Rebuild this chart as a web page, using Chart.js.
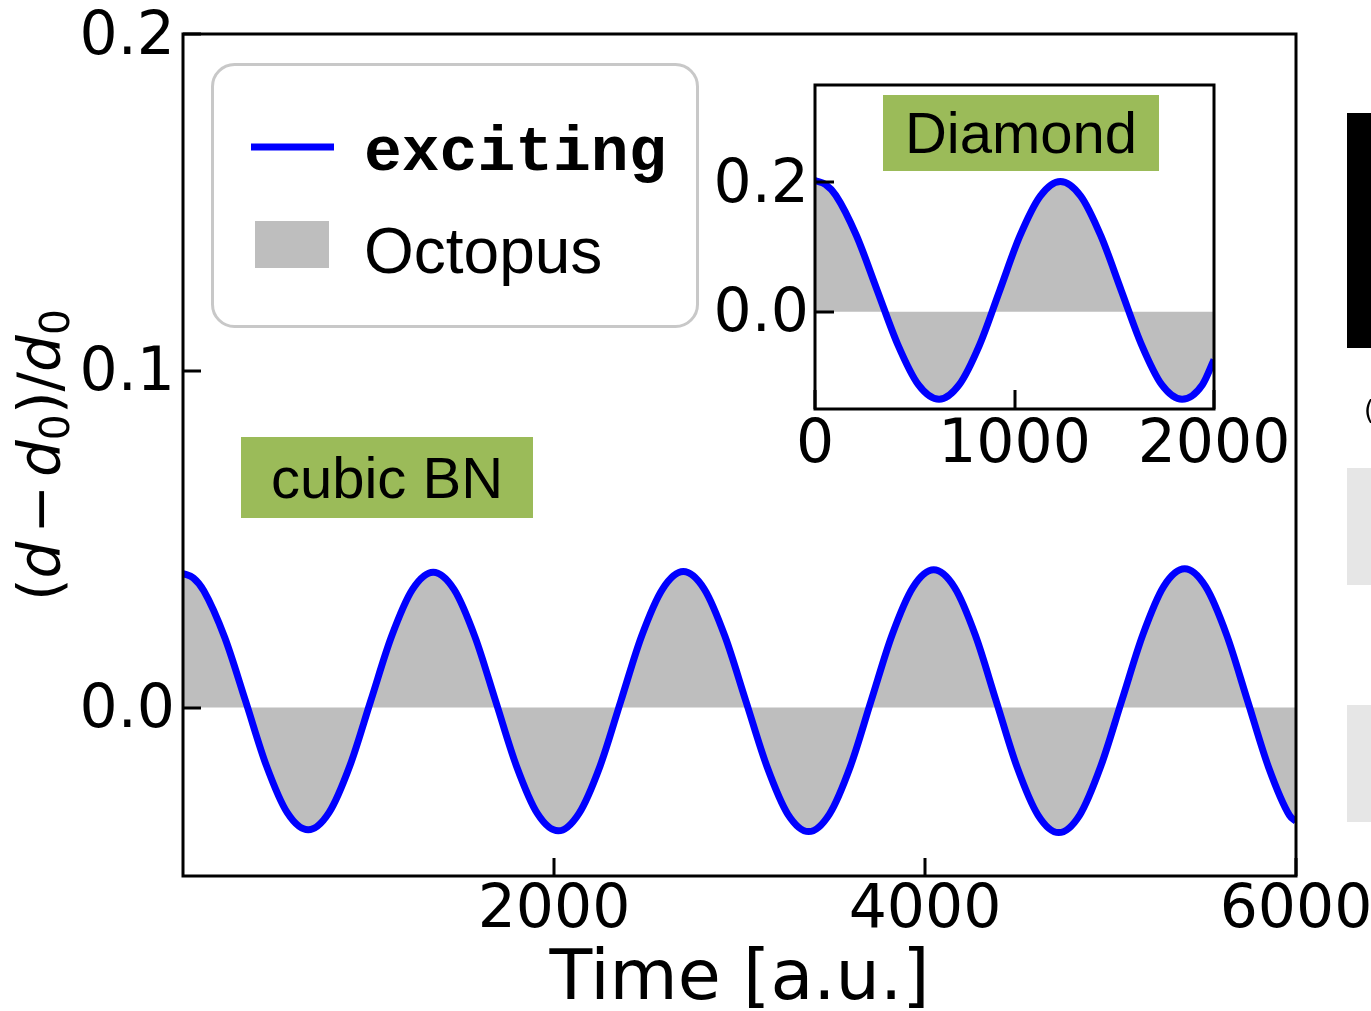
<!DOCTYPE html>
<html>
<head>
<meta charset="utf-8">
<script src="https://cdn.jsdelivr.net/npm/chart.js@4.4.1/dist/chart.umd.min.js"></script>
<style>
  html, body { margin: 0; padding: 0; background: #ffffff; }
  #wrap { position: relative; width: 1371px; height: 1011px; overflow: hidden; }
  #main { position: absolute; left: 0; top: 0; }
  #inset { position: absolute; left: 700px; top: 70px; }
</style>
</head>
<body>
<div id="wrap">
  <canvas id="main" width="1371" height="1011"></canvas>
  <canvas id="inset" width="600" height="410"></canvas>
</div>
<script>
// Cubic BN: relative change of the bond length over time
const bnTime = [0, 56, 112, 225, 338, 450, 562, 675,
  787, 900, 1012, 1124, 1237, 1349,
  1461, 1574, 1686, 1798, 1911, 2023,
  2135, 2248, 2360, 2472, 2585, 2697,
  2810, 2922, 3035, 3148, 3260, 3373,
  3485, 3598, 3710, 3822, 3935, 4047,
  4159, 4272, 4384, 4496, 4609, 4721,
  4834, 4947, 5061, 5174, 5287, 5400,
  5513, 5626, 5739, 5852, 5965, 6000];
const bnStrain = [0.0398, 0.0385, 0.0347, 0.0208, 0.0018, -0.0173, -0.0312, -0.0363,
  -0.0312, -0.0172, 0.0020, 0.0211, 0.0351, 0.0402,
  0.0351, 0.0210, 0.0018, -0.0174, -0.0315, -0.0366,
  -0.0314, -0.0174, 0.0019, 0.0212, 0.0352, 0.0404,
  0.0352, 0.0211, 0.0018, -0.0175, -0.0316, -0.0368,
  -0.0316, -0.0174, 0.0021, 0.0215, 0.0357, 0.0409,
  0.0357, 0.0214, 0.0019, -0.0176, -0.0319, -0.0371,
  -0.0319, -0.0175, 0.0021, 0.0216, 0.0360, 0.0412,
  0.0359, 0.0216, 0.0020, -0.0177, -0.0320, -0.0338];

// Diamond (inset)
const diaTime = [0, 52, 104, 207, 311, 415, 518, 622,
  723, 825, 926, 1027, 1129, 1230,
  1332, 1433, 1535, 1637, 1738, 1840,
  1942, 2000];
const diaStrain = [0.2025, 0.1967, 0.1799, 0.1181, 0.0338, -0.0506, -0.1124, -0.1350,
  -0.1125, -0.0510, 0.0330, 0.1170, 0.1785, 0.2010,
  0.1785, 0.1170, 0.0330, -0.0510, -0.1125, -0.1350,
  -0.1125, -0.0740];

const mainTimeTicks = [2000, 4000, 6000];
const mainStrainTicks = [0, 0.1, 0.2];
const insetTimeTicks = [0, 1000, 2000];
const insetStrainTicks = [0, 0.2];

const seriesNames = ['exciting', 'Octopus'];
const mainLabel = 'cubic BN';
const insetLabel = 'Diamond';
const xTitle = 'Time [a.u.]';

const LINE_BLUE = '#0000ff';
const FILL_GREY = '#bebebe';
const TAG_GREEN = '#9bbb59';
const SANS = '"DejaVu Sans"';

const toPoints = (xs, ys) => xs.map((x, i) => ({ x: x, y: ys[i] }));

function fixedTicks(values) {
  return (scale) => { scale.ticks = values.map(v => ({ value: v })); };
}
function fixedSize(prop, size) {
  return (scale) => {
    scale[prop] = size;
    scale.paddingLeft = scale.paddingRight = scale.paddingTop = scale.paddingBottom = 0;
  };
}

// Frame around the plot area plus inward-pointing tick marks
const frameTicks = {
  id: 'frameTicks',
  afterDatasetsDraw(chart, args, opts) {
    const { ctx, chartArea: a, scales } = chart;
    const len = opts.len || 18;
    ctx.save();
    ctx.strokeStyle = '#000';
    ctx.lineWidth = 3;
    ctx.beginPath();
    scales.x.ticks.forEach(t => {
      const px = Math.round(scales.x.getPixelForValue(t.value));
      ctx.moveTo(px, a.bottom);
      ctx.lineTo(px, a.bottom - len);
    });
    scales.y.ticks.forEach(t => {
      const py = Math.round(scales.y.getPixelForValue(t.value));
      ctx.moveTo(a.left, py);
      ctx.lineTo(a.left + len, py);
    });
    ctx.stroke();
    ctx.strokeRect(a.left, a.top, a.right - a.left, a.bottom - a.top);
    ctx.restore();
  }
};

// White plot background
const plotBg = {
  id: 'plotBg',
  beforeDatasetsDraw(chart) {
    const { ctx, chartArea: a } = chart;
    ctx.save();
    ctx.fillStyle = '#ffffff';
    ctx.fillRect(a.left, a.top, a.right - a.left, a.bottom - a.top);
    ctx.restore();
  }
};

function tag(ctx, text, x, y, w, h, baseline, size) {
  ctx.save();
  ctx.fillStyle = TAG_GREEN;
  ctx.fillRect(x, y, w, h);
  ctx.fillStyle = '#000';
  ctx.font = `${size}px "Liberation Sans"`;
  ctx.textAlign = 'center';
  ctx.textBaseline = 'alphabetic';
  ctx.fillText(text, x + w / 2, baseline);
  ctx.restore();
}

// Legend box, material tag, y-axis title and neighbouring panel edge
const mainDecor = {
  id: 'mainDecor',
  afterDraw(chart) {
    const { ctx, chartArea: a } = chart;
    const ds = chart.data.datasets;
    ctx.save();

    // legend
    ctx.beginPath();
    ctx.roundRect(212.5, 64.5, 485, 262, 22);
    ctx.fillStyle = 'rgba(255,255,255,0.9)';
    ctx.fill();
    ctx.strokeStyle = '#c8c8c8';
    ctx.lineWidth = 3;
    ctx.stroke();

    ctx.strokeStyle = ds[0].borderColor;
    ctx.lineWidth = 7;
    ctx.beginPath();
    ctx.moveTo(251, 147);
    ctx.lineTo(334, 147);
    ctx.stroke();
    ctx.fillStyle = ds[1].backgroundColor;
    ctx.fillRect(255, 221, 74, 47);

    ctx.fillStyle = '#000';
    ctx.textBaseline = 'alphabetic';
    ctx.textAlign = 'left';
    ctx.font = 'bold 63px "Liberation Mono"';
    ctx.fillText(ds[0].label, 364, 170);
    ctx.font = '64px "Liberation Sans"';
    ctx.fillText(ds[1].label, 364, 273);

    // material tag
    tag(ctx, mainLabel, 241, 437, 292, 81, 498, 58);

    // y-axis title: (d - d0)/d0 with italic d and subscript 0
    const size = 58;
    const gap = 8;
    const parts = [['(', 'n'], ['d', 'i'], [' ', 'g'], ['\u2212', 'n'], [' ', 'g'], ['d', 'i'], ['0', 's'],
                   [')', 'n'], ['/', 'n'], ['d', 'i'], ['0', 's']];
    const fontFor = k => k === 'i' ? `italic ${size}px ${SANS}`
                       : k === 's' ? `${Math.round(size * 0.7)}px ${SANS}`
                       : `${size}px ${SANS}`;
    const widthOf = (s, k) => {
      if (k === 'g') return gap;
      ctx.font = fontFor(k);
      return ctx.measureText(s).width;
    };
    let total = 0;
    parts.forEach(([s, k]) => { total += widthOf(s, k); });
    ctx.translate(60, (a.top + a.bottom) / 2);
    ctx.rotate(-Math.PI / 2);
    let x = -total / 2;
    parts.forEach(([s, k]) => {
      const w = widthOf(s, k);
      if (k !== 'g') ctx.fillText(s, x, k === 's' ? size * 0.15 : 0);
      x += w;
    });
    ctx.setTransform(1, 0, 0, 1, 0, 0);

    // edge of the neighbouring panel
    ctx.fillStyle = '#000';
    ctx.fillRect(1347, 113, 24, 235);
    ctx.fillStyle = '#e6e6e6';
    ctx.fillRect(1347, 468, 24, 117);
    ctx.fillRect(1347, 705, 24, 117);
    ctx.fillStyle = '#000';
    ctx.font = `26px ${SANS}`;
    ctx.fillText('(', 1364, 419);
    ctx.restore();
  }
};

const insetDecor = {
  id: 'insetDecor',
  afterDraw(chart) {
    tag(chart.ctx, insetLabel, 183, 25, 276, 76, 83, 58);
  }
};

const tickFont = { family: 'DejaVu Sans', size: 60, lineHeight: 1 };
const plainNumber = v => String(v);
const oneDecimal = v => v.toFixed(1);

function series(times, values) {
  return [
    {
      label: seriesNames[0],
      data: toPoints(times, values),
      borderColor: LINE_BLUE,
      borderWidth: 7,
      pointRadius: 0,
      fill: false,
      cubicInterpolationMode: 'monotone'
    },
    {
      label: seriesNames[1],
      data: toPoints(times, values),
      borderWidth: 0,
      borderColor: 'rgba(0,0,0,0)',
      backgroundColor: FILL_GREY,
      pointRadius: 0,
      fill: 'origin',
      cubicInterpolationMode: 'monotone'
    }
  ];
}

new Chart(document.getElementById('main'), {
  type: 'line',
  data: { datasets: series(bnTime, bnStrain) },
  options: {
    responsive: false,
    animation: false,
    events: [],
    layout: { padding: { top: 34, right: 75, bottom: 0, left: 0 } },
    plugins: { legend: { display: false }, tooltip: { enabled: false }, frameTicks: { len: 18 } },
    scales: {
      x: {
        type: 'linear', min: 0, max: 6000, position: 'bottom',
        grid: { display: false }, border: { display: false },
        afterBuildTicks: fixedTicks(mainTimeTicks),
        afterFit: fixedSize('height', 135),
        ticks: { font: tickFont, color: '#000', padding: -3, maxRotation: 0, autoSkip: false, callback: plainNumber },
        title: { display: true, text: xTitle, color: '#000',
                 font: { family: 'DejaVu Sans', size: 70, lineHeight: 0.9 }, padding: { top: 0, bottom: -1 } }
      },
      y: {
        type: 'linear', min: -0.05, max: 0.2, position: 'left',
        grid: { display: false }, border: { display: false },
        afterBuildTicks: fixedTicks(mainStrainTicks),
        afterFit: fixedSize('width', 183),
        ticks: { font: tickFont, color: '#000', padding: 0, labelOffset: 4, callback: oneDecimal }
      }
    }
  },
  plugins: [frameTicks, mainDecor]
});

new Chart(document.getElementById('inset'), {
  type: 'line',
  data: { datasets: series(diaTime, diaStrain) },
  options: {
    responsive: false,
    animation: false,
    events: [],
    layout: { padding: { top: 15, right: 86, bottom: 0, left: 0 } },
    plugins: { legend: { display: false }, tooltip: { enabled: false }, frameTicks: { len: 19 } },
    scales: {
      x: {
        type: 'linear', min: 0, max: 2000, position: 'bottom',
        grid: { display: false }, border: { display: false },
        afterBuildTicks: fixedTicks(insetTimeTicks),
        afterFit: fixedSize('height', 71),
        ticks: { font: tickFont, color: '#000', padding: -1, maxRotation: 0, autoSkip: false, callback: plainNumber }
      },
      y: {
        type: 'linear', min: -0.15, max: 0.35, position: 'left',
        grid: { display: false }, border: { display: false },
        afterBuildTicks: fixedTicks(insetStrainTicks),
        afterFit: fixedSize('width', 115),
        ticks: { font: tickFont, color: '#000', padding: -2, labelOffset: 4, callback: oneDecimal }
      }
    }
  },
  plugins: [plotBg, frameTicks, insetDecor]
});
</script>
</body>
</html>
